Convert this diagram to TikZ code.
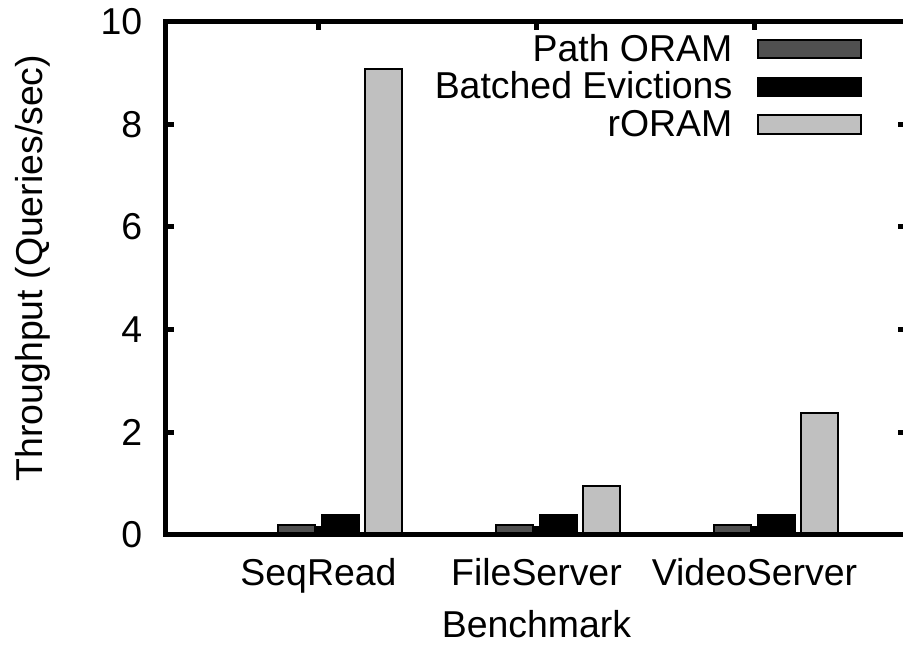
\documentclass[tikz,border=0pt]{standalone}
\usepackage{fontspec}
\setmainfont{Liberation Sans}
\usepackage{tkz-euclide}
\definecolor{pathgray}{HTML}{505050}
\definecolor{roramgray}{HTML}{C0C0C0}
\tikzset{
  axisline/.style={line width=0.05cm, line cap=rect},
  ticmark/.style={line width=0.05cm},
  barbox/.style={draw=black, line width=0.022cm},
  ticklabel/.style={inner sep=0pt, anchor=east},
  catlabel/.style={inner sep=0pt, anchor=base},
  keylabel/.style={inner sep=0pt, anchor=base east}
}

\begin{document}
\begin{tikzpicture}[font=\fontsize{10.65}{12}\selectfont]
        \path[use as bounding box, clip] (0,0) rectangle (9.03,6.47);

        \tkzDefPoint(1.655,1.12){O};
        \tkzDefPoint(1.655,6.255){T};
        \tkzDefPoint(9.07,1.12){R};
        \tkzDefPoint(9.07,6.255){S};

        \foreach \g/\a/\b/\c in {0/0.19/0.39/9.08, 1/0.19/0.39/0.95, 2/0.19/0.39/2.38}{
          \pgfmathsetmacro\xs{2.78+2.18*\g}
          \draw[barbox, fill=pathgray] (\xs,1.12) rectangle ++(0.37,{0.5135*\a});
          \draw[barbox, fill=black] (\xs+0.436,1.12) rectangle ++(0.37,{0.5135*\b});
          \draw[barbox, fill=roramgray] (\xs+0.872,1.12) rectangle ++(0.37,{0.5135*\c});
        }

        \foreach \v in {0,2,...,10}{
          \draw[ticmark] (1.655,{1.12+0.5135*\v}) -- ++(0.088,0);
          \draw[ticmark] (9.07,{1.12+0.5135*\v}) -- ++(-0.088,0);
          \node[ticklabel] (yl\v) at (1.43,{1.12+0.5135*\v}) {\v};
        }

        \foreach \x/\name in {3.185/SeqRead, 5.365/FileServer, 7.545/VideoServer}{
          \draw[ticmark] (\x,1.12) -- ++(0,0.088);
          \draw[ticmark] (\x,6.255) -- ++(0,-0.088);
          \node[catlabel] (xl\name) at (\x,0.61) {\name};
        }

        \tkzDrawPolySeg[axisline](S,T,O,R);

        \node[keylabel] (kpath) at (7.33,5.857) {Path ORAM};
        \node[keylabel] (kbatch) at (7.33,5.48) {Batched Evictions};
        \node[keylabel] (kroram) at (7.33,5.103) {rORAM};
        \draw[barbox, fill=pathgray] (7.577,5.887) rectangle (8.613,6.07);
        \draw[barbox, fill=black] (7.577,5.507) rectangle (8.613,5.693);
        \draw[barbox, fill=roramgray] (7.577,5.13) rectangle (8.613,5.317);

        \node[rotate=90, anchor=base, inner sep=0pt] (ylabel) at (0.43,3.79) {Throughput (Queries/sec)};
        \node[catlabel] (xlabel) at (5.365,0.097) {Benchmark};
\end{tikzpicture}
\end{document}
